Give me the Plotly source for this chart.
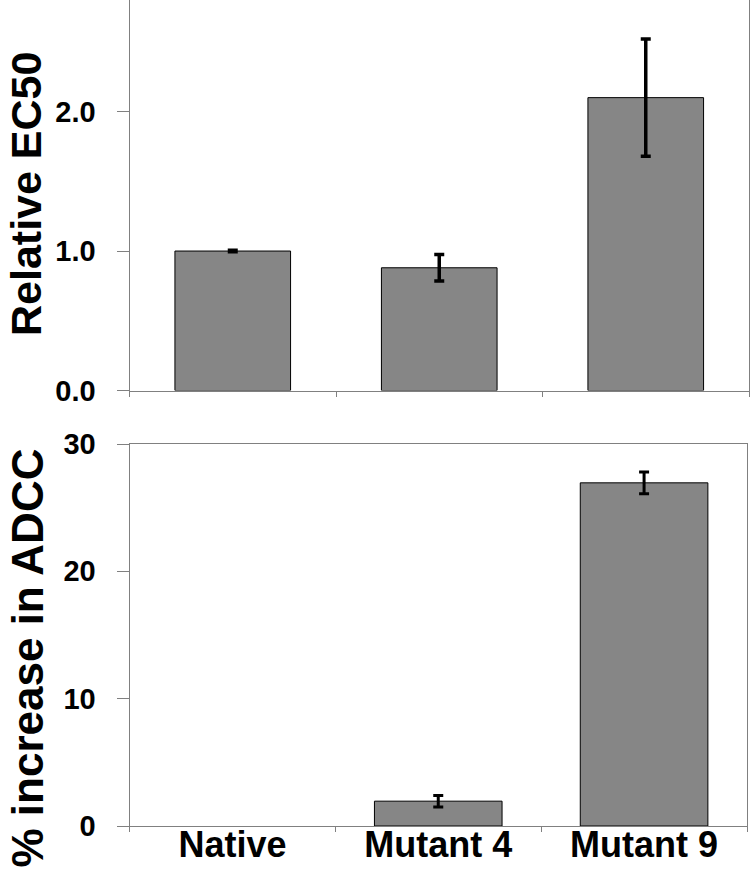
import plotly.graph_objects as go

categories = ["Native", "Mutant 4", "Mutant 9"]
ec50_values = [1.0, 0.88, 2.10]
ec50_errors = [0.005, 0.095, 0.42]
adcc_values = [0.0, 1.95, 26.95]
adcc_errors = [0.0, 0.45, 0.85]
ec50_ticks = [0.0, 1.0, 2.0]
adcc_ticks = [0, 10, 20, 30]

W, H = 750, 869
FONT = "Liberation Sans"
BAR_COLOR = "#868686"
AX_COLOR = "#808080"

fig = go.Figure()

fig.add_trace(go.Bar(
    x=categories, y=ec50_values, width=0.56,
    marker=dict(color=BAR_COLOR, line=dict(color="black", width=1)),
    error_y=dict(type="data", array=ec50_errors, visible=True,
                 color="black", thickness=3.5, width=5),
    xaxis="x", yaxis="y", showlegend=False,
))
fig.add_trace(go.Bar(
    x=categories, y=adcc_values, width=0.62,
    marker=dict(color=BAR_COLOR,
                line=dict(color="black", width=[0 if v == 0 else 1 for v in adcc_values])),
    xaxis="x2", yaxis="y2", showlegend=False,
))
# error bars only where an error exists
err_idx = [i for i, e in enumerate(adcc_errors) if e > 0]
fig.add_trace(go.Scatter(
    x=[categories[i] for i in err_idx], y=[adcc_values[i] for i in err_idx],
    mode="markers", marker=dict(size=0.1, color="black", opacity=0),
    error_y=dict(type="data", array=[adcc_errors[i] for i in err_idx], visible=True,
                 color="black", thickness=3, width=5),
    xaxis="x2", yaxis="y2", showlegend=False, hoverinfo="skip",
))

x_left, x_right_top, x_right_bot = 129.5 / W, 749 / W, 747 / W
top_y0, top_y1 = 1 - 390.5 / H, 1.0
bot_y0, bot_y1 = 1 - 826 / H, 1 - 444 / H

common_x = dict(type="category", showline=True, linecolor=AX_COLOR, linewidth=1,
                mirror=True, ticks="outside", tickson="boundaries", ticklen=5,
                tickcolor=AX_COLOR, showgrid=False, zeroline=False,
                fixedrange=True, automargin=False)
common_y = dict(showline=True, linecolor=AX_COLOR, linewidth=1, mirror=True,
                ticks="outside", ticklen=12, tickcolor=AX_COLOR, showgrid=False,
                zeroline=False, ticklabelstandoff=15, automargin=False,
                tickfont=dict(family=FONT, size=29, color="black", weight="bold"))

fig.update_layout(
    template="none",
    width=W, height=H,
    margin=dict(l=0, r=0, t=0, b=0, pad=0),
    paper_bgcolor="white", plot_bgcolor="white",
    xaxis=dict(domain=[x_left, x_right_top], anchor="y", showticklabels=False,
               **common_x),
    yaxis=dict(domain=[top_y0, top_y1], anchor="x", range=[0, 2.8],
               tickvals=ec50_ticks, tickformat=".1f", **common_y),
    xaxis2=dict(domain=[x_left, x_right_bot], anchor="y2", showticklabels=True,
                ticklabelstandoff=-13,
                tickfont=dict(family=FONT, size=36, color="black", weight="bold"),
                **common_x),
    yaxis2=dict(domain=[bot_y0, bot_y1], anchor="x2", range=[0, 30],
                tickvals=adcc_ticks, **common_y),
    annotations=[
        dict(text="Relative EC50", textangle=-90, xref="paper", yref="paper",
             x=0.0, y=1 - 194 / H, xanchor="left", yanchor="middle",
             showarrow=False,
             font=dict(family=FONT, size=43, color="black", weight="bold")),
        dict(text="% increase in ADCC", textangle=-90, xref="paper", yref="paper",
             x=0.0, y=1 - 658 / H, xanchor="left", yanchor="middle",
             showarrow=False,
             font=dict(family=FONT, size=44, color="black", weight="bold")),
    ],
)

fig.write_html(
    "out.html",
    config={"displayModeBar": False},
    post_script="document.body.style.margin='0';document.body.style.overflow='hidden';",
)
